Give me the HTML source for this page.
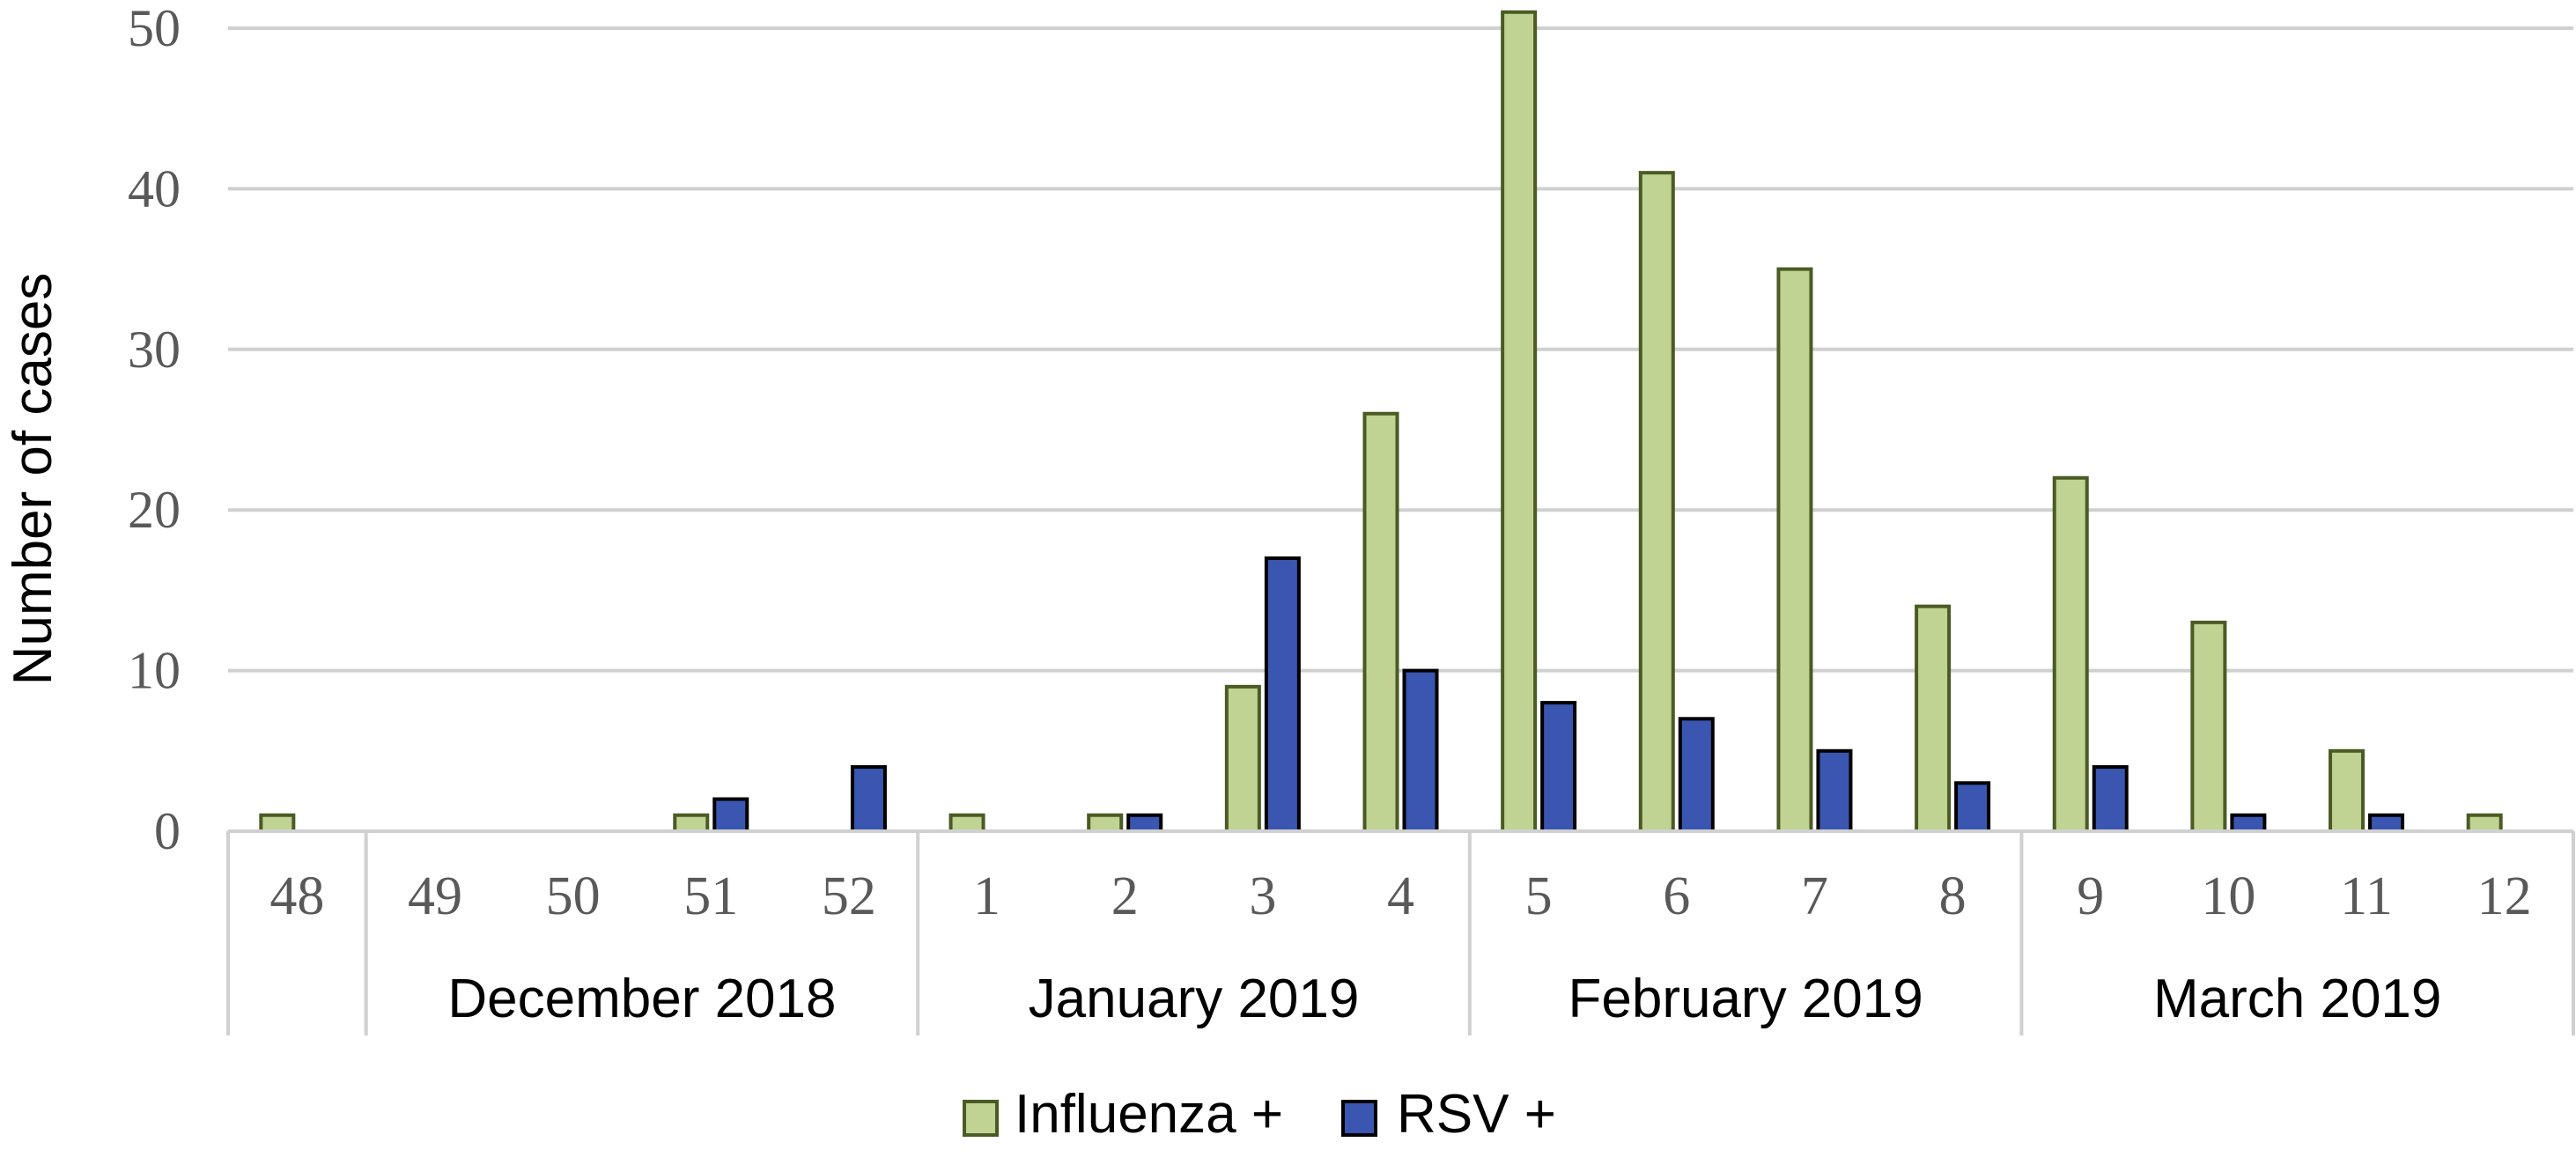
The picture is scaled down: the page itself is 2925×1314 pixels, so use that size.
<!DOCTYPE html>
<html><head><meta charset="utf-8"><style>
html,body{margin:0;padding:0;background:#fff;}
svg{display:block;}
</style></head><body>
<svg id="chart" width="2925" height="1314" viewBox="0 0 2925 1314" xmlns="http://www.w3.org/2000/svg">
<g id="grid"></g>
<g id="yticks"></g>
<g id="bars"></g>
<g id="xaxis"></g>
<text transform="translate(58,544) rotate(-90)" text-anchor="middle" font-family="Liberation Sans, sans-serif" font-size="62" fill="#000">Number of cases</text>
<g>
<rect x="1095" y="1251" width="37" height="38" fill="#c0d393" stroke="#4a5b24" stroke-width="4"/>
<text x="1152" y="1286" font-family="Liberation Sans, sans-serif" font-size="62" fill="#000">Influenza +</text>
<rect x="1525" y="1251" width="37" height="38" fill="#3a56b0" stroke="#000" stroke-width="4"/>
<text x="1586" y="1286" font-family="Liberation Sans, sans-serif" font-size="62" fill="#000">RSV +</text>
</g>
</svg>
<script>
const weeks = ["48","49","50","51","52","1","2","3","4","5","6","7","8","9","10","11","12"];
const influenza = [1,0,0,1,0,1,1,9,26,51,41,35,14,22,13,5,1];
const rsv = [0,0,0,2,4,0,1,17,10,8,7,5,3,4,1,1,0];
const yTicks = [0,10,20,30,40,50];
const months = ["December 2018","January 2019","February 2019","March 2019"];
const monthStart = [1,5,9,13];
const monthEnd = [5,9,13,17];

const NS = "http://www.w3.org/2000/svg";
const left = 259, right = 2922, y0 = 944, yTop = 32, yMax = 50;
const catW = (right - left) / weeks.length;
const y = v => y0 - (v / yMax) * (y0 - yTop);
const xc = i => left + (i + 0.5) * catW;
function mk(tag, attrs, parent) {
  const e = document.createElementNS(NS, tag);
  for (const k in attrs) e.setAttribute(k, attrs[k]);
  parent.appendChild(e);
  return e;
}
const grid = document.getElementById('grid');
const yt = document.getElementById('yticks');
yTicks.forEach(t => {
  if (t > 0) {
    const l = mk('line', {x1: left, x2: right, y1: y(t), y2: y(t), stroke: '#d0d0d0', 'stroke-width': 4}, grid);
    
    
  }
  const tx = mk('text', {x: 205, y: y(t) + 20, 'text-anchor': 'end', 'font-family': 'Liberation Serif, serif', 'font-size': 60, fill: '#595959'}, yt);
  tx.textContent = t;
  
  
});
const bars = document.getElementById('bars');
weeks.forEach((w, i) => {
  const c = xc(i);
  if (influenza[i] > 0) {
    const r = mk('rect', {x: c - 41, y: y(influenza[i]), width: 37, height: y0 - y(influenza[i]), fill: '#c0d393', stroke: '#4a5b24', 'stroke-width': 4}, bars);
    
    
  }
  if (rsv[i] > 0) {
    const r = mk('rect', {x: c + 4, y: y(rsv[i]), width: 37, height: y0 - y(rsv[i]), fill: '#3a56b0', stroke: '#000', 'stroke-width': 4}, bars);
    
    
  }
});
const xa = document.getElementById('xaxis');
const ax = mk('line', {x1: left, x2: right, y1: 944, y2: 944, stroke: '#d0d0d0', 'stroke-width': 4}, xa);


weeks.forEach((w, i) => {
  const t = mk('text', {x: xc(i), y: 1038, 'text-anchor': 'middle', 'font-family': 'Liberation Serif, serif', 'font-size': 62, fill: '#595959'}, xa);
  t.textContent = w;
  
  
});
[0,1,5,9,13,17].forEach(k => {
  const l = mk('line', {x1: left + k * catW, x2: left + k * catW, y1: 944, y2: 1176, stroke: '#d0d0d0', 'stroke-width': 4}, xa);
  
  
});
months.forEach((m, j) => {
  const cx = left + (monthStart[j] + monthEnd[j]) / 2 * catW;
  const t = mk('text', {x: cx, y: 1155, 'text-anchor': 'middle', 'font-family': 'Liberation Sans, sans-serif', 'font-size': 62, fill: '#000'}, xa);
  t.textContent = m;
  
  
});
</script>
</body></html>
